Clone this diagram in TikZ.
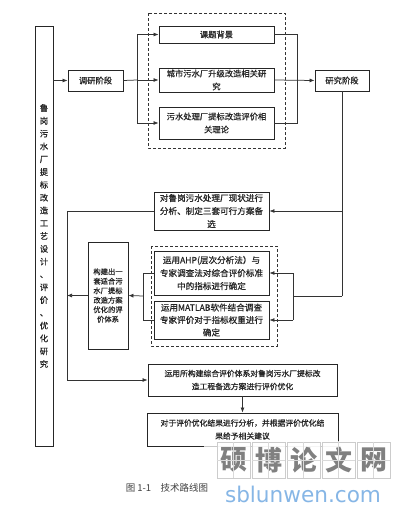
\documentclass[tikz,border=0pt]{standalone}
\usepackage{fontspec}
\setmainfont{Noto Sans CJK SC}[FakeBold=0.7]
\newfontfamily\capfont{Noto Sans CJK SC}
\newfontfamily\wmfont{DejaVu Sans}
\usetikzlibrary{arrows.meta}
\definecolor{wmblue}{HTML}{86B6E6}
\begin{document}
\begin{tikzpicture}[x=1pt,y=-1pt,
  box/.style={draw=black!85, line width=0.9pt, inner sep=0pt, align=center, text=black!85,
              font=\fontsize{8.3}{13}\selectfont},
  arr/.style={-{Latex[length=5pt,width=4pt]}, line width=0.75pt, draw=black!80},
  ln/.style={line width=0.75pt, draw=black!80},
  dbox/.style={draw=black!80, line width=0.8pt, dash pattern=on 3pt off 2pt},
  wmbox/.style={draw=black!20, line width=0.6pt, fill=white, fill opacity=0.8,
                minimum width=33pt, minimum height=36pt, inner sep=0pt,
                text=black!50, text opacity=1, font=\capfont\fontsize{27}{27}\selectfont\bfseries}
]
\useasboundingbox (0,0) rectangle (406,514);
\fill[white] (0,0) rectangle (406,514);

% dashed groups
\draw[dbox] (148,13) rectangle (285,148);
\draw[dbox] (151,246) rectangle (277,346);

% nodes
\node[box, minimum width=18pt, minimum height=420pt, font=\fontsize{8.3}{12.8}\selectfont]
  (left) at (44,236) {鲁\\岗\\污\\水\\厂\\提\\标\\改\\造\\工\\艺\\设\\计\\、\\评\\价\\、\\优\\化\\研\\究};
\node[box, minimum width=55pt, minimum height=21pt] (dy) at (95.5,80.5) {调研阶段};
\node[box, minimum width=115pt, minimum height=17pt] (bg) at (216.5,34.5) {课题背景};
\node[box, minimum width=115pt, minimum height=24pt] (cs) at (216.5,80) {城市污水厂升级改造相关研\\究};
\node[box, minimum width=115pt, minimum height=32pt] (wp) at (216.5,123) {污水处理厂提标改造评价相\\关理论};
\node[box, minimum width=54pt, minimum height=21pt] (yj) at (342,80.5) {研究阶段};
\node[box, minimum width=115pt, minimum height=38pt, font=\fontsize{8.6}{13}\selectfont]
  (dl) at (211.5,211) {对鲁岗污水处理厂现状进行\\分析、制定三套可行方案备\\选};
\node[box, minimum width=115pt, minimum height=44pt, font=\fontsize{8.6}{13}\selectfont]
  (ahp) at (211.5,273) {运用AHP(层次分析法）与\\专家调查法对综合评价标准\\中的指标进行确定};
\node[box, minimum width=115pt, minimum height=38pt, font=\fontsize{8.6}{12.5}\selectfont]
  (mat) at (211.5,320) {运用MATLAB软件结合调查\\专家评价对于指标权重进行\\确定};
\node[box, minimum width=40pt, minimum height=107pt, font=\fontsize{7.3}{9.5}\selectfont]
  (gj) at (108,295.5) {构建出一\\套适合污\\水厂提标\\改造方案\\优化的评\\价体系};
\node[box, minimum width=189pt, minimum height=32pt, font=\fontsize{7.8}{13}\selectfont]
  (yy) at (242.5,380) {运用所构建综合评价体系对鲁岗污水厂提标改\\造工程备选方案进行评价优化};
\node[box, minimum width=191pt, minimum height=33pt, font=\fontsize{7.8}{13}\selectfont]
  (dy2) at (242.5,429.5) {对于评价优化结果进行分析，并根据评价优化结\\果给予相关建议};

% helper coordinates
\coordinate (br1) at (137,80);
\coordinate (mr) at (297,80);
\coordinate (rd) at (342,296);
\coordinate (m2) at (293,296);
\coordinate (m3) at (143,296);
\coordinate (lv) at (67,0);

% connectors
\draw[arr] (left.east |- dy.west) -- (dy.west);
\draw[ln] (dy.east) -- (br1);
\draw[ln] (br1 |- bg.west) -- (br1 |- wp.west);
\draw[arr] (br1 |- bg.west) -- (bg.west);
\draw[arr] (br1) -- (cs.west);
\draw[arr] (br1 |- wp.west) -- (wp.west);
\draw[ln] (bg.east) -| (mr);
\draw[ln] (wp.east) -| (mr);
\draw[arr] (cs.east) -- (yj.west);
\draw[ln] (yj.south) -- (rd);
\draw[arr] (yj.south |- dl.east) -- (dl.east);
\draw[ln] (rd) -- (m2);
\draw[ln] (m2 |- ahp.east) -- (m2 |- mat.east);
\draw[arr] (m2 |- ahp.east) -- (ahp.east);
\draw[arr] (m2 |- mat.east) -- (mat.east);
\draw[ln] (ahp.west) -| (m3);
\draw[ln] (mat.west) -| (m3);
\draw[arr] (m3) -- (gj.east);
\draw[arr] (gj.west) -- (lv |- gj.west);
\draw[arr] (dl.west) -| (lv |- yy.west) -- (yy.west);
\draw[arr] (yy.south) -- (dy2.north);

% caption
\node[font=\capfont\fontsize{9.5}{10}\selectfont, text=black!75] (cap) at (167,488) {图 1-1\hspace{1em}技术路线图};

% watermark
\fill[white, opacity=0.75] (204,441) rectangle (392,479);
\foreach \c [count=\i] in {硕,博,论,文,网} {
  \node[wmbox] (w\i) at ({198.5+35*\i},460) {\c};
  \draw[black!15, line width=0.4pt] (w\i.north) -- (w\i.south) (w\i.west) -- (w\i.east);
}
\node[font=\wmfont\fontsize{21.6}{22}\selectfont, text=wmblue, inner sep=0pt] (wm) at (303,494) {sblunwen.com};
\end{tikzpicture}
\end{document}
